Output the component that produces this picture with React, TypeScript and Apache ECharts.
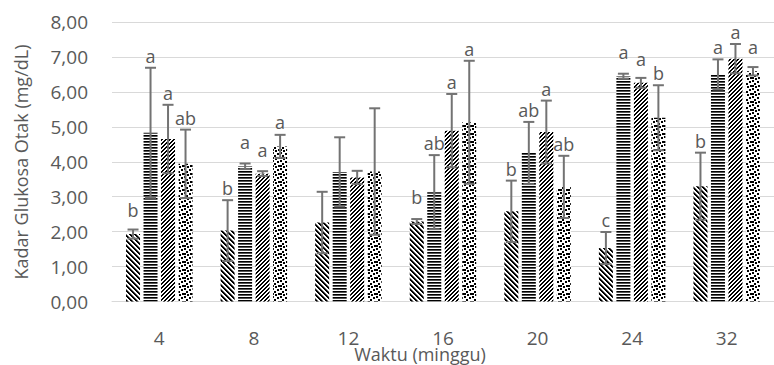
import React, { useEffect, useRef } from 'react';
import * as echarts from 'echarts';

const weeks = ['4', '8', '12', '16', '20', '24', '32'];
const series1 = [1.93, 2.03, 2.26, 2.29, 2.58, 1.53, 3.30];
const series2 = [4.83, 3.87, 3.71, 3.13, 4.25, 6.45, 6.50];
const series3 = [4.65, 3.66, 3.55, 4.89, 4.85, 6.26, 6.95];
const series4 = [3.94, 4.44, 3.72, 5.13, 3.28, 5.26, 6.59];
const err1 = [0.13, 0.87, 0.88, 0.07, 0.88, 0.46, 0.96];
const err2 = [1.86, 0.08, 0.99, 1.06, 0.89, 0.07, 0.43];
const err3 = [0.98, 0.07, 0.19, 1.05, 0.90, 0.14, 0.42];
const err4 = [0.98, 0.33, 1.81, 1.76, 0.89, 0.93, 0.12];
const letters1 = ['b', 'b', '', 'b', 'b', 'c', 'b'];
const letters2 = ['a', 'a', '', 'ab', 'ab', 'a', 'a'];
const letters3 = ['a', 'a', '', 'a', 'a', 'a', 'a'];
const letters4 = ['ab', 'a', '', 'a', 'ab', 'b', 'a'];

const yTitle = 'Kadar Glukosa Otak (mg/dL)';
const xTitle = 'Waktu (minggu)';

const FONT = '"Open Sans", "Noto Sans", sans-serif';
const TEXT = '#595959';

function makePattern(w: number, h: number, fn: (x: number, y: number) => string) {
  const c = document.createElement('canvas');
  c.width = w;
  c.height = h;
  const ctx = c.getContext('2d')!;
  for (let y = 0; y < h; y++) {
    for (let x = 0; x < w; x++) {
      ctx.fillStyle = fn(x, y);
      ctx.fillRect(x, y, 1, 1);
    }
  }
  return { image: c, repeat: 'repeat', imageWidth: w, imageHeight: h } as any;
}

export default function App() {
  const ref = useRef<HTMLDivElement>(null);
  useEffect(() => {
    if (!ref.current) return;
    const chart = echarts.init(ref.current, null, { renderer: 'svg' });

    const p1 = makePattern(5, 5, (x, y) => {
      const m = (((x - y) % 5) + 5) % 5;
      return m < 2 ? '#000' : m === 2 ? '#777' : '#fff';
    });
    const p2 = makePattern(3, 3, (_x, y) => (y === 0 ? '#000' : y === 1 ? '#555' : '#fff'));
    const p3 = makePattern(4, 4, (x, y) => ((x + y) % 4 < 2 ? '#000' : '#fff'));
    const dots = [[0, 0], [5, 1], [2, 3], [6, 5], [3, 6], [0, 5]];
    const p4 = makePattern(8, 8, (x, y) => {
      for (const [dx, dy] of dots) {
        if (x >= dx && x < dx + 2 && y >= dy && y < dy + 2) return '#000';
      }
      return '#fff';
    });

    const means = [series1, series2, series3, series4];
    const errs = [err1, err2, err3, err4];
    const letters = [letters1, letters2, letters3, letters4];
    const patterns = [p1, p2, p3, p4];

    const errData: number[][] = [];
    for (let k = 0; k < 4; k++) {
      for (let i = 0; i < weeks.length; i++) {
        errData.push([i, means[k][i], errs[k][i], k]);
      }
    }

    const barSeries = means.map((m, k) => ({
      type: 'bar',
      name: 'S' + (k + 1),
      data: m,
      barWidth: 14,
      barGap: '25%',
      itemStyle: { color: patterns[k] },
      z: 2,
    }));

    chart.setOption({
      animation: false,
      grid: { left: 112, top: 22, width: 675, height: 279.5 },
      xAxis: {
        type: 'category',
        data: weeks,
        axisLine: { lineStyle: { color: '#d9d9d9', width: 1 } },
        axisTick: { show: false },
        axisLabel: { color: TEXT, fontSize: 19, fontFamily: FONT, margin: 27 },
      },
      yAxis: {
        type: 'value',
        min: 0,
        max: 8,
        interval: 1,
        axisLine: { show: false },
        axisTick: { show: false },
        splitLine: { lineStyle: { color: '#d9d9d9', width: 1 } },
        axisLabel: {
          color: TEXT,
          fontSize: 19,
          fontFamily: FONT,
          margin: 24,
          formatter: (v: number) => v.toFixed(2).replace('.', ','),
        },
      },
      graphic: [
        {
          type: 'text',
          x: 21,
          y: 162,
          rotation: Math.PI / 2,
          style: {
            text: yTitle,
            fill: TEXT,
            fontSize: 18,
            fontFamily: FONT,
            align: 'center',
            verticalAlign: 'middle',
          },
        },
        {
          type: 'text',
          x: 420,
          y: 354,
          style: {
            text: xTitle,
            fill: TEXT,
            fontSize: 18,
            fontFamily: FONT,
            align: 'center',
            verticalAlign: 'middle',
          },
        },
      ],
      series: [
        ...barSeries,
        {
          type: 'custom',
          data: errData,
          z: 5,
          renderItem: (params: any, api: any) => {
            const cat = api.value(0);
            const mean = api.value(1);
            const err = api.value(2);
            const k = api.value(3);
            const base = api.coord([cat, mean]);
            const cx = base[0] + (k - 1.5) * 17.5;
            const yBar = base[1];
            const yTop = api.coord([cat, mean + err])[1];
            const yBot = api.coord([cat, mean - err])[1];
            const half = 5.5;
            const ls = { stroke: '#737373', lineWidth: 2 };
            const children: any[] = [
              { type: 'line', shape: { x1: cx, y1: yTop, x2: cx, y2: yBot }, style: ls },
              { type: 'line', shape: { x1: cx - half, y1: yTop, x2: cx + half, y2: yTop }, style: ls },
              { type: 'line', shape: { x1: cx - half, y1: yBot, x2: cx + half, y2: yBot }, style: ls },
            ];
            const txt = letters[k][cat];
            if (txt) {
              const baseline = Math.min(yTop - 5, yBar - 17);
              children.push({
                type: 'text',
                x: cx,
                y: baseline + 2,
                style: {
                  text: txt,
                  fill: TEXT,
                  fontSize: 18,
                  fontFamily: FONT,
                  align: 'center',
                  verticalAlign: 'bottom',
                },
              });
            }
            return { type: 'group', children };
          },
        },
      ],
    } as any);

    return () => chart.dispose();
  }, []);

  return (
    <div
      ref={ref}
      style={{ position: 'fixed', left: 0, top: 0, width: 774, height: 365, background: '#fff' }}
    />
  );
}
